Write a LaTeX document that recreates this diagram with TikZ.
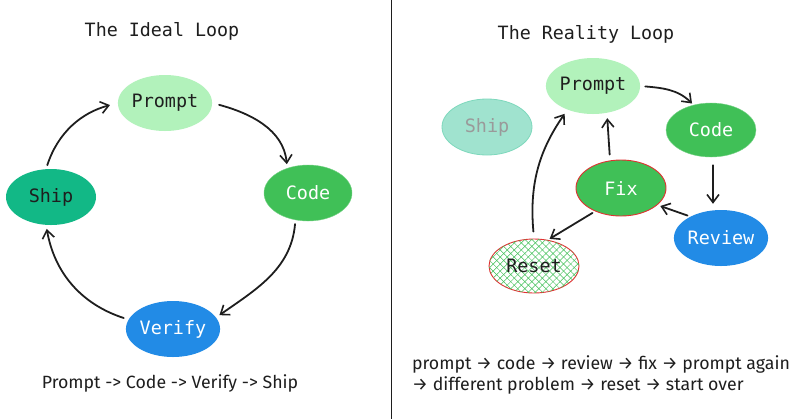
\documentclass[tikz,border=0pt]{standalone}
\usepackage{fontspec}
\setmonofont{DejaVu Sans Mono}
\newfontfamily\handfont{Fira Sans}
\usetikzlibrary{shapes.geometric,arrows.meta,patterns.meta}
\definecolor{lgreen}{HTML}{B2F2BB}
\definecolor{mgreen}{HTML}{40C057}
\definecolor{tealc}{HTML}{12B886}
\definecolor{bluec}{HTML}{228BE6}
\definecolor{redc}{HTML}{E03131}
\definecolor{ink}{HTML}{1E1E1E}
\tikzset{
  blob/.style={ellipse, minimum width=92bp, minimum height=56bp, inner sep=0pt,
    font=\ttfamily\fontsize{18.5}{20}\selectfont},
  conn/.style={draw=ink, line width=1.8pt, line cap=round,
    -{Straight Barb[length=8pt,width=12pt,line width=1.6pt]}},
  ttl/.style={font=\ttfamily\fontsize{18.4}{20}\selectfont, text=ink},
  hand/.style={font=\handfont\fontsize{17.8}{21}\selectfont, text=ink, align=left}
}
\begin{document}
\begin{tikzpicture}[x=1bp,y=1bp]
\useasboundingbox (0,0) rectangle (800,-419);
\fill[white] (0,0) rectangle (800,-419);
\draw[ink, line width=1pt] (391,0) -- (391,-419);

% ---------- left: ideal loop
\node[ttl] (t1) at (162,-31) {The Ideal Loop};
\node[blob, fill=lgreen, text=ink] (p1) at (165,-103) {Prompt};
\node[blob, fill=mgreen, draw=mgreen!70!white, text=white, minimum width=88bp] (c1) at (308,-193) {Code};
\node[blob, fill=tealc, text=ink, minimum width=90bp] (s1) at (51,-197) {Ship};
\node[blob, fill=bluec, text=white] (v1) at (173,-329) {Verify};
\node[hand] (b1) at (170,-383) {Prompt -> Code -> Verify -> Ship};

\draw[conn, shorten <=4bp, shorten >=8bp] (s1.100) to[out=72, in=195] (p1.west);
\draw[conn, shorten <=7bp, shorten >=4bp] (p1.east) to[out=-15, in=95] (c1.130);
\draw[conn, shorten <=4bp, shorten >=4bp] (c1.245) to[out=-95, in=35] (v1.15);
\draw[conn, shorten <=5bp, shorten >=4bp] (v1.168) to[out=162, in=-80] (s1.260);

% ---------- right: reality loop
\node[ttl] (t2) at (586,-34) {The Reality Loop};
\node[blob, fill=lgreen, text=ink] (p2) at (593,-86) {Prompt};
\node[blob, fill=tealc!40!white, draw=tealc!55!white, line width=0.8pt, text=ink!45!white, minimum width=90bp] (s2) at (487,-127) {Ship};
\node[blob, fill=mgreen, draw=mgreen!70!white, text=white, minimum width=90bp, minimum height=54bp] (c2) at (711,-130) {Code};
\node[blob, fill=mgreen, draw=redc, line width=0.9pt, text=white, minimum width=90bp] (f2) at (621,-188) {Fix};
\node[blob, fill=bluec, text=white, minimum width=90bp] (r2) at (721,-238) {Review};
\node[blob, fill=white, draw=redc, line width=0.9pt, text=ink, minimum width=90bp, minimum height=54bp,
  postaction={pattern={Lines[angle=45,distance=5pt,line width=0.5pt]}, pattern color=mgreen},
  postaction={pattern={Lines[angle=-45,distance=5pt,line width=0.5pt]}, pattern color=mgreen}] (x2) at (534,-266) {};
\node[blob, text=ink] (x2l) at (x2) {Reset};
\node[hand] (b2) at (601,-375) {prompt → code → review → fix → prompt again\\→ different problem → reset → start over};

\draw[conn, shorten <=5bp, shorten >=2bp] (p2.east) to[out=-5, in=135] (c2.125);
\draw[conn, shorten <=8bp, shorten >=6bp] ([xshift=2bp]c2.south) -- ([xshift=2bp]c2.south |- r2.north);
\draw[conn, shorten <=3bp, shorten >=3bp] (r2.145) -- (f2.335);
\draw[conn, shorten <=5bp, shorten >=4bp] ([xshift=-11bp]f2.north) -- ([xshift=14bp]p2.south);
\draw[conn, shorten <=3bp, shorten >=2bp] (f2.222) -- (x2.62);
\draw[conn, shorten <=7bp, shorten >=5bp] (x2.north) to[out=95, in=235] (p2.223);
\end{tikzpicture}
\end{document}
